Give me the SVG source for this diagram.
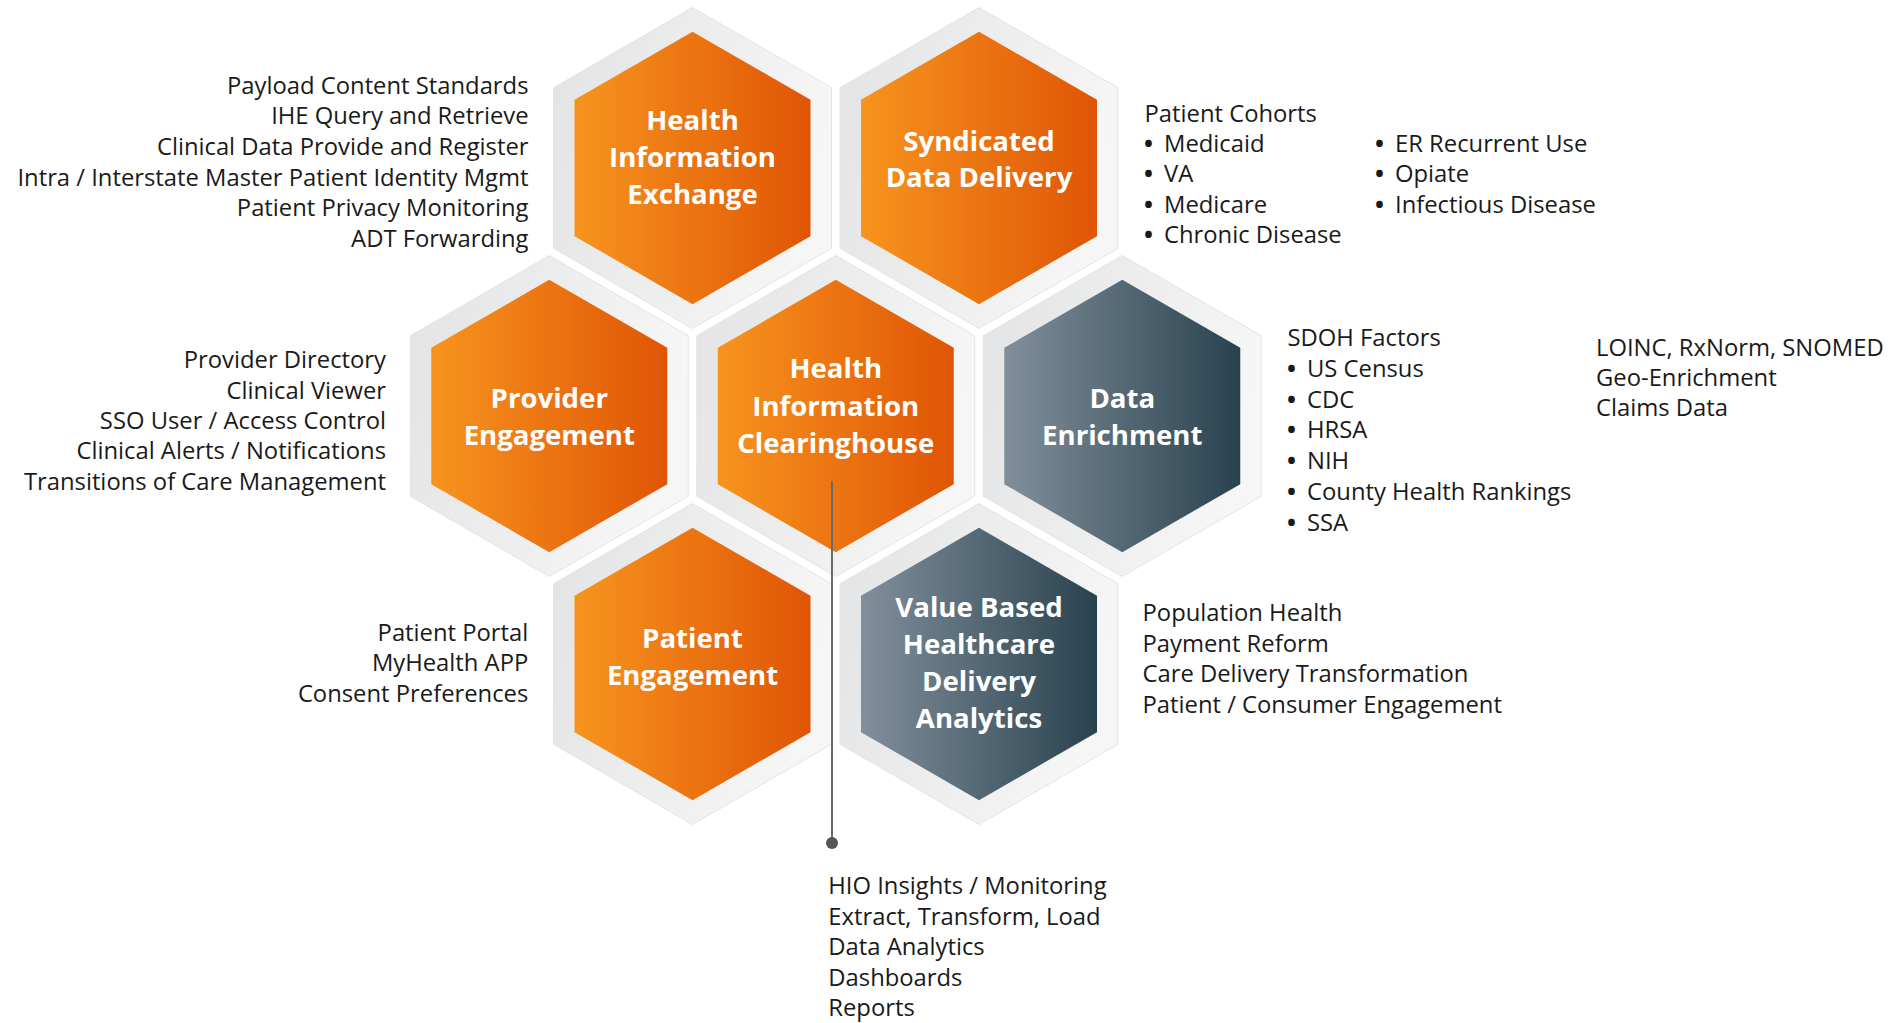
<svg xmlns="http://www.w3.org/2000/svg" width="1904" height="1023" viewBox="0 0 1904 1023">
<style>
.t{font-family:"Open Sans","Liberation Sans",sans-serif;font-size:23.8px;fill:#1a1a1a}
.r{text-anchor:end}
.b{font-weight:700}
.h{font-family:"Open Sans","Liberation Sans",sans-serif;font-size:27.6px;font-weight:700;fill:#ffffff;text-anchor:middle}
</style>
<defs>
<linearGradient id="gOr" x1="0" y1="0" x2="1" y2="0"><stop offset="0" stop-color="#F7941E"/><stop offset="1" stop-color="#E05505"/></linearGradient>
<linearGradient id="gSl" x1="0" y1="0" x2="1" y2="0"><stop offset="0" stop-color="#818F9B"/><stop offset="1" stop-color="#29424F"/></linearGradient>
<linearGradient id="gFr" x1="0" y1="0" x2="1" y2="0.3"><stop offset="0" stop-color="#E2E3E4"/><stop offset="1" stop-color="#F6F6F6"/></linearGradient>
<polygon id="outer" points="0,-160.5 139,-80.25 139,80.25 0,160.5 -139,80.25 -139,-80.25" fill="url(#gFr)" stroke="#E4E4E4" stroke-width="1"/>
<polygon id="inner" points="0,-136.25 118,-68.13 118,68.13 0,136.25 -118,68.13 -118,-68.13"/>
</defs>
<rect width="1904" height="1023" fill="#ffffff"/>

<g id="hie">
<use href="#outer" transform="translate(692.5,168)"/>
<use href="#inner" transform="translate(692.5,168)" fill="url(#gOr)"/>
<text class="h"><tspan x="692.5" y="130">Health</tspan><tspan x="692.5" y="167">Information</tspan><tspan x="692.5" y="204">Exchange</tspan></text>
</g>
<g id="sdd">
<use href="#outer" transform="translate(979,168)"/>
<use href="#inner" transform="translate(979,168)" fill="url(#gOr)"/>
<text class="h"><tspan x="979" y="150.5">Syndicated</tspan><tspan x="979" y="187">Data Delivery</tspan></text>
</g>
<g id="provider">
<use href="#outer" transform="translate(549.25,416)"/>
<use href="#inner" transform="translate(549.25,416)" fill="url(#gOr)"/>
<text class="h"><tspan x="549.25" y="408">Provider</tspan><tspan x="549.25" y="445">Engagement</tspan></text>
</g>
<g id="hic">
<use href="#outer" transform="translate(835.75,416)"/>
<use href="#inner" transform="translate(835.75,416)" fill="url(#gOr)"/>
<text class="h"><tspan x="835.75" y="378">Health</tspan><tspan x="835.75" y="415.5">Information</tspan><tspan x="835.75" y="453">Clearinghouse</tspan></text>
</g>
<g id="de">
<use href="#outer" transform="translate(1122.25,416)"/>
<use href="#inner" transform="translate(1122.25,416)" fill="url(#gSl)"/>
<text class="h"><tspan x="1122.25" y="408">Data</tspan><tspan x="1122.25" y="445">Enrichment</tspan></text>
</g>
<g id="pe">
<use href="#outer" transform="translate(692.5,664)"/>
<use href="#inner" transform="translate(692.5,664)" fill="url(#gOr)"/>
<text class="h"><tspan x="692.5" y="648">Patient</tspan><tspan x="692.5" y="685">Engagement</tspan></text>
</g>
<g id="vbhda">
<use href="#outer" transform="translate(979,664)"/>
<use href="#inner" transform="translate(979,664)" fill="url(#gSl)"/>
<text class="h"><tspan x="979" y="616.5">Value Based</tspan><tspan x="979" y="654">Healthcare</tspan><tspan x="979" y="691">Delivery</tspan><tspan x="979" y="728">Analytics</tspan></text>
</g>

<g id="connectors">
<line x1="832" y1="481" x2="832" y2="843" stroke="#6A6A6A" stroke-width="2"/>
<circle cx="832" cy="843" r="6" fill="#555555"/>
</g>

<g id="hie-list">
<text class="t r" x="528.5" y="93.5">Payload Content Standards</text>
<text class="t r" x="528.5" y="124.2">IHE Query and Retrieve</text>
<text class="t r" x="528.5" y="154.9">Clinical Data Provide and Register</text>
<text class="t r" x="528.5" y="185.6">Intra / Interstate Master Patient Identity Mgmt</text>
<text class="t r" x="528.5" y="216.3">Patient Privacy Monitoring</text>
<text class="t r" x="528.5" y="247">ADT Forwarding</text>
</g>
<g id="sdd-list">
<text class="t" x="1144.5" y="121.5">Patient Cohorts</text>
<text class="t" y="151.5"><tspan class="b" x="1144">•</tspan><tspan x="1164">Medicaid</tspan></text>
<text class="t" y="182"><tspan class="b" x="1144">•</tspan><tspan x="1164">VA</tspan></text>
<text class="t" y="212.7"><tspan class="b" x="1144">•</tspan><tspan x="1164">Medicare</tspan></text>
<text class="t" y="243.3"><tspan class="b" x="1144">•</tspan><tspan x="1164">Chronic Disease</tspan></text>
<text class="t" y="151.5"><tspan class="b" x="1375">•</tspan><tspan x="1395">ER Recurrent Use</tspan></text>
<text class="t" y="182"><tspan class="b" x="1375">•</tspan><tspan x="1395">Opiate</tspan></text>
<text class="t" y="212.7"><tspan class="b" x="1375">•</tspan><tspan x="1395">Infectious Disease</tspan></text>
</g>
<g id="provider-list">
<text class="t r" x="386" y="368">Provider Directory</text>
<text class="t r" x="386" y="398.5">Clinical Viewer</text>
<text class="t r" x="386" y="429">SSO User / Access Control</text>
<text class="t r" x="386" y="459.3">Clinical Alerts / Notifications</text>
<text class="t r" x="386" y="489.5">Transitions of Care Management</text>
</g>
<g id="de-list">
<text class="t" x="1287.5" y="346">SDOH Factors</text>
<text class="t" y="376.8"><tspan class="b" x="1287">•</tspan><tspan x="1307">US Census</tspan></text>
<text class="t" y="407.6"><tspan class="b" x="1287">•</tspan><tspan x="1307">CDC</tspan></text>
<text class="t" y="438.4"><tspan class="b" x="1287">•</tspan><tspan x="1307">HRSA</tspan></text>
<text class="t" y="469.2"><tspan class="b" x="1287">•</tspan><tspan x="1307">NIH</tspan></text>
<text class="t" y="500"><tspan class="b" x="1287">•</tspan><tspan x="1307">County Health Rankings</tspan></text>
<text class="t" y="530.8"><tspan class="b" x="1287">•</tspan><tspan x="1307">SSA</tspan></text>
<text class="t" x="1596" y="355.5">LOINC, RxNorm, SNOMED</text>
<text class="t" x="1596" y="386">Geo-Enrichment</text>
<text class="t" x="1596" y="416">Claims Data</text>
</g>
<g id="pe-list">
<text class="t r" x="528.3" y="641">Patient Portal</text>
<text class="t r" x="528.3" y="671.3">MyHealth APP</text>
<text class="t r" x="528.3" y="701.7">Consent Preferences</text>
</g>
<g id="vb-list">
<text class="t" x="1142.5" y="621">Population Health</text>
<text class="t" x="1142.5" y="651.7">Payment Reform</text>
<text class="t" x="1142.5" y="682">Care Delivery Transformation</text>
<text class="t" x="1142.5" y="712.5">Patient / Consumer Engagement</text>
</g>
<g id="hic-list">
<text class="t" x="828.3" y="894">HIO Insights / Monitoring</text>
<text class="t" x="828.3" y="924.5">Extract, Transform, Load</text>
<text class="t" x="828.3" y="955">Data Analytics</text>
<text class="t" x="828.3" y="985.5">Dashboards</text>
<text class="t" x="828.3" y="1016">Reports</text>
</g>
</svg>
